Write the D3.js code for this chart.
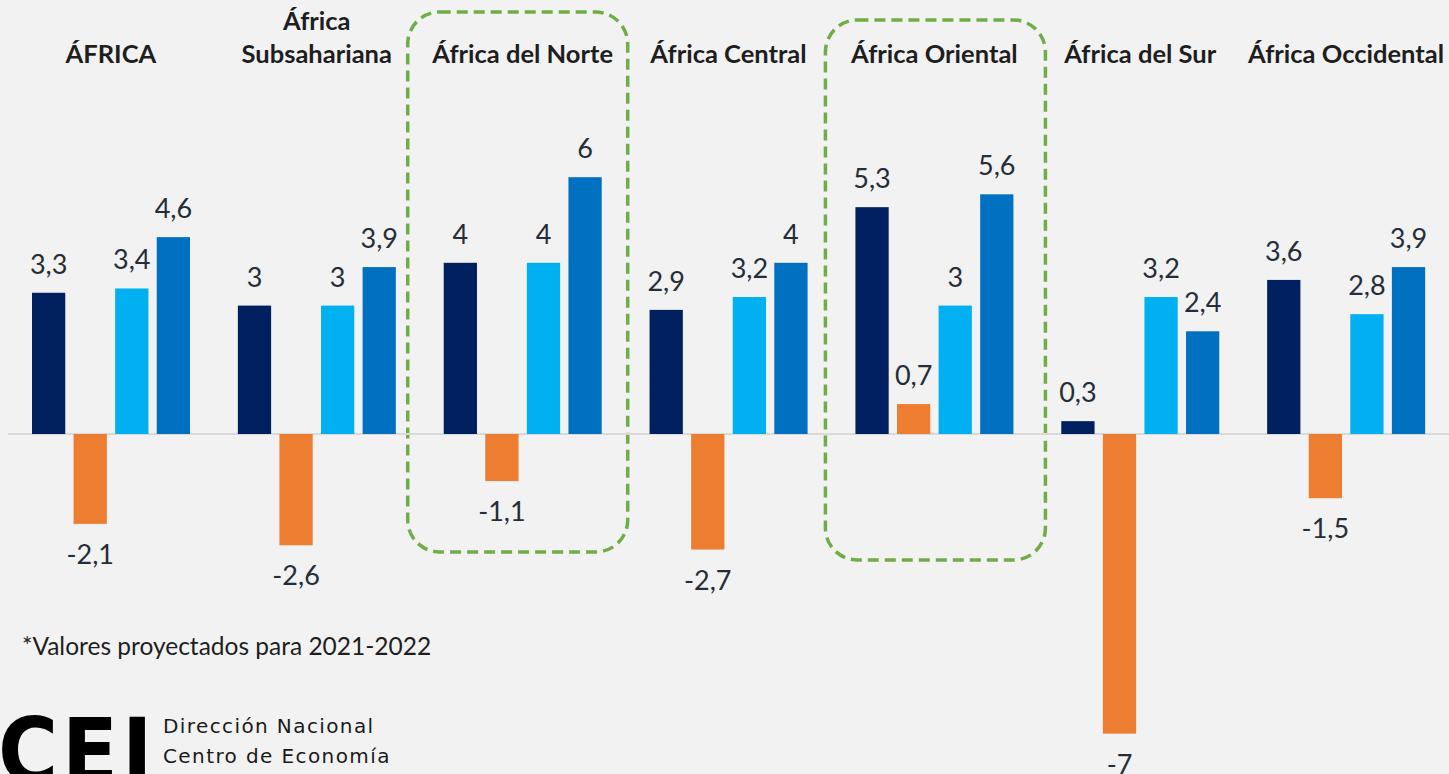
<!DOCTYPE html>
<html>
<head>
<meta charset="utf-8">
<script src="https://cdn.jsdelivr.net/npm/d3@7"></script>
<style>
  body { margin: 0; background: #F2F2F2; overflow: hidden; }
  svg { display: block; }
</style>
</head>
<body>
<div id="chart"></div>
<script>
// regions (header text, "\n" splits the label in two lines)
const regions = ["ÁFRICA", "África\nSubsahariana", "África del Norte", "África Central",
                 "África Oriental", "África del Sur", "África Occidental"];
const series = ["2019", "2020", "2021*", "2022*"];
const colors = ["#002060", "#ED7D31", "#00B0F0", "#0070C0"];

// growth values per series, same order as regions
const v2019 = [3.3, 3, 4, 2.9, 5.3, 0.3, 3.6];
const v2020 = [-2.1, -2.6, -1.1, -2.7, 0.7, -7, -1.5];
const v2021 = [3.4, 3, 4, 3.2, 3, 3.2, 2.8];
const v2022 = [4.6, 3.9, 6, 4, 5.6, 2.4, 3.9];

const highlighted = ["África del Norte", "África Oriental"];

const W = 1449, H = 774;
const svg = d3.select("#chart").append("svg")
    .attr("width", W)
    .attr("height", H);

svg.append("rect").attr("width", W).attr("height", H).attr("fill", "#F2F2F2");

const data = regions.map((r, i) => ({
    region: r,
    values: [v2019[i], v2020[i], v2021[i], v2022[i]]
}));

const x0 = d3.scaleBand()
    .domain(regions)
    .range([8, W])
    .padding(0);

const x1 = d3.scaleBand()
    .domain(series)
    .range([24, 182])
    .paddingInner(0.2);

const y = d3.scaleLinear()
    .domain([-7, 6])
    .range([434 + 7 * 42.8, 434 - 6 * 42.8]);

const fmt = v => String(v).replace(".", ",");

// highlight boxes (dashed green)
svg.selectAll(".hl")
    .data(highlighted)
    .enter()
    .append("rect")
    .attr("class", "hl")
    .attr("x", (d, i) => x0(d) - (i === 0 ? 12 : 6))
    .attr("y", (d, i) => i === 0 ? 12 : 20)
    .attr("width", 220)
    .attr("height", 540)
    .attr("rx", 32)
    .attr("fill", "none")
    .attr("stroke", "#70AD47")
    .attr("stroke-width", 3.5)
    .attr("stroke-dasharray", "11,6");

// zero line
svg.append("line")
    .attr("x1", 8).attr("x2", W)
    .attr("y1", y(0)).attr("y2", y(0))
    .attr("stroke", "#D9D9D9")
    .attr("stroke-width", 2);

const groups = svg.selectAll(".grp")
    .data(data)
    .enter()
    .append("g")
    .attr("class", "grp")
    .attr("transform", d => `translate(${x0(d.region)},0)`);

const bars = groups.selectAll(".bar")
    .data(d => d.values.map((v, j) => ({ key: series[j], value: v, color: colors[j] })))
    .enter();

bars.append("rect")
    .attr("class", "bar")
    .attr("x", d => x1(d.key))
    .attr("width", x1.bandwidth())
    .attr("y", d => y(Math.max(0, d.value)))
    .attr("height", d => Math.abs(y(d.value) - y(0)))
    .attr("fill", d => d.color);

bars.append("text")
    .attr("x", d => x1(d.key) + x1.bandwidth() / 2)
    .attr("y", d => d.value >= 0 ? y(d.value) - 19 : y(d.value) + 40)
    .attr("text-anchor", "middle")
    .style("font-family", "Lato, 'Open Sans', sans-serif")
    .style("font-size", "27px")
    .style("fill", "#252D38")
    .text(d => fmt(d.value));

// region headers
groups.append("text")
    .attr("x", x0.bandwidth() / 2)
    .attr("y", 63)
    .attr("text-anchor", "middle")
    .style("font-family", "Lato, 'Open Sans', sans-serif")
    .style("font-weight", "bold")
    .style("font-size", "25.5px")
    .style("fill", "#1E1E1E")
    .each(function(d) {
        const lines = d.region.split("\n");
        const t = d3.select(this);
        lines.forEach((l, k) => {
            t.append("tspan")
                .attr("x", x0.bandwidth() / 2)
                .attr("y", 63 - (lines.length - 1 - k) * 33)
                .text(l);
        });
    });

// footnote
svg.append("text")
    .attr("x", 22)
    .attr("y", 655)
    .style("font-family", "Lato, 'Open Sans', sans-serif")
    .style("font-size", "24.5px")
    .style("fill", "#1E1E1E")
    .text("*Valores proyectados para 2021-2022");

// CEI logo
const logo = svg.append("g");
logo.append("text")
    .attr("x", -2)
    .attr("y", 783)
    .style("font-family", "'DejaVu Sans Condensed', 'DejaVu Sans', sans-serif")
    .style("font-weight", "bold")
    .style("font-size", "91px")
    .style("letter-spacing", "4px")
    .style("fill", "#000")
    .text("CEI");
logo.append("text")
    .attr("x", 163)
    .attr("y", 733)
    .style("font-family", "'DejaVu Sans', sans-serif")
    .style("font-size", "20px")
    .style("letter-spacing", "1.4px")
    .style("fill", "#1a1a1a")
    .text("Dirección Nacional");
logo.append("text")
    .attr("x", 163)
    .attr("y", 763)
    .style("font-family", "'DejaVu Sans', sans-serif")
    .style("font-size", "20px")
    .style("letter-spacing", "1.4px")
    .style("fill", "#1a1a1a")
    .text("Centro de Economía");
</script>
</body>
</html>
